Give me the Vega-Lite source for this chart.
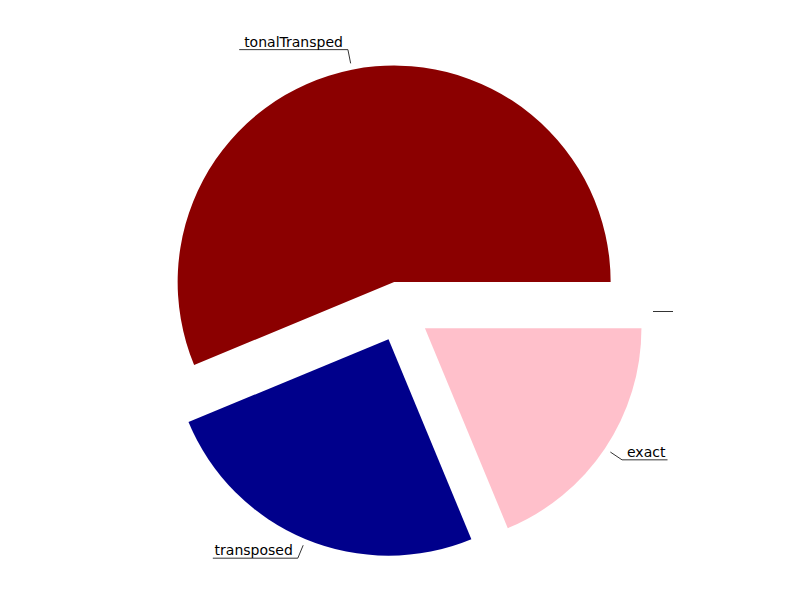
{
  "$schema": "https://vega.github.io/schema/vega-lite/v6.json",
  "width": 800,
  "height": 600,
  "autosize": {"type": "none"},
  "padding": 0,
  "background": "white",
  "config": {"view": {"stroke": null}},
  "data": {
    "values": [
      {"label": "tonalTransped", "value": 9, "order": 1},
      {"label": "transposed", "value": 4, "order": 2},
      {"label": "exact", "value": 3, "order": 3},
      {"label": "", "value": 0, "order": 4}
    ]
  },
  "transform": [
    {"joinaggregate": [{"op": "sum", "field": "value", "as": "total"}]},
    {"window": [{"op": "sum", "field": "value", "as": "cum"}], "sort": [{"field": "order", "order": "ascending"}], "frame": [null, 0]},
    {"calculate": "PI/2 - 2*PI*(datum.cum - datum.value)/datum.total", "as": "a0"},
    {"calculate": "PI/2 - 2*PI*datum.cum/datum.total", "as": "a1"},
    {"calculate": "(datum.a0 + datum.a1)/2", "as": "mid"},
    {"calculate": "30*sin(datum.mid)", "as": "cx"},
    {"calculate": "-30*cos(datum.mid)", "as": "cy"},
    {"calculate": "datum.cx + 223*sin(datum.mid)", "as": "l1x"},
    {"calculate": "datum.cy - 223*cos(datum.mid)", "as": "l1y"},
    {"calculate": "datum.cx + 237*sin(datum.mid)", "as": "l2x"},
    {"calculate": "datum.cy - 237*cos(datum.mid)", "as": "l2y"},
    {"calculate": "sin(datum.mid) >= -0.0001 ? 1 : -1", "as": "side"},
    {"calculate": "datum.l2x + datum.side*(length(datum.label)*7.9 + 6)", "as": "ux"},
    {"calculate": "datum.l2x + datum.side*5", "as": "tx"},
    {"calculate": "datum.l2y - 3", "as": "ty"}
  ],
  "layer": [
    {
      "mark": {"type": "arc", "outerRadius": 216.5},
      "encoding": {
        "theta": {"field": "a0", "type": "quantitative", "scale": null},
        "theta2": {"field": "a1"},
        "x": {"field": "cx", "type": "quantitative", "scale": {"domain": [-400, 400], "range": [0, 800], "nice": false, "zero": false}, "axis": null},
        "y": {"field": "cy", "type": "quantitative", "scale": {"domain": [-311.5, 288.5], "range": [0, 600], "nice": false, "zero": false}, "axis": null},
        "color": {"field": "label", "type": "nominal", "scale": {"domain": ["tonalTransped", "transposed", "exact", ""], "range": ["#8B0000", "#00008B", "#FFC0CB", "#ffffff"]}, "legend": null}
      }
    },
    {
      "mark": {"type": "rule", "color": "#000000", "strokeWidth": 0.8},
      "encoding": {
        "x": {"field": "l1x", "type": "quantitative", "scale": {"domain": [-400, 400], "range": [0, 800], "nice": false, "zero": false}, "axis": null},
        "y": {"field": "l1y", "type": "quantitative", "scale": {"domain": [-311.5, 288.5], "range": [0, 600], "nice": false, "zero": false}, "axis": null},
        "x2": {"field": "l2x"},
        "y2": {"field": "l2y"}
      }
    },
    {
      "mark": {"type": "rule", "color": "#000000", "strokeWidth": 0.8},
      "encoding": {
        "x": {"field": "l2x", "type": "quantitative", "scale": {"domain": [-400, 400], "range": [0, 800], "nice": false, "zero": false}, "axis": null},
        "y": {"field": "l2y", "type": "quantitative", "scale": {"domain": [-311.5, 288.5], "range": [0, 600], "nice": false, "zero": false}, "axis": null},
        "x2": {"field": "ux"},
        "y2": {"field": "l2y"}
      }
    },
    {
      "transform": [{"filter": "datum.side > 0"}],
      "mark": {"type": "text", "align": "left", "baseline": "alphabetic", "font": "DejaVu Sans", "fontSize": 14, "color": "#000000"},
      "encoding": {
        "x": {"field": "tx", "type": "quantitative", "scale": {"domain": [-400, 400], "range": [0, 800], "nice": false, "zero": false}, "axis": null},
        "y": {"field": "ty", "type": "quantitative", "scale": {"domain": [-311.5, 288.5], "range": [0, 600], "nice": false, "zero": false}, "axis": null},
        "text": {"field": "label"}
      }
    },
    {
      "transform": [{"filter": "datum.side < 0"}],
      "mark": {"type": "text", "align": "right", "baseline": "alphabetic", "font": "DejaVu Sans", "fontSize": 14, "color": "#000000"},
      "encoding": {
        "x": {"field": "tx", "type": "quantitative", "scale": {"domain": [-400, 400], "range": [0, 800], "nice": false, "zero": false}, "axis": null},
        "y": {"field": "ty", "type": "quantitative", "scale": {"domain": [-311.5, 288.5], "range": [0, 600], "nice": false, "zero": false}, "axis": null},
        "text": {"field": "label"}
      }
    }
  ]
}
